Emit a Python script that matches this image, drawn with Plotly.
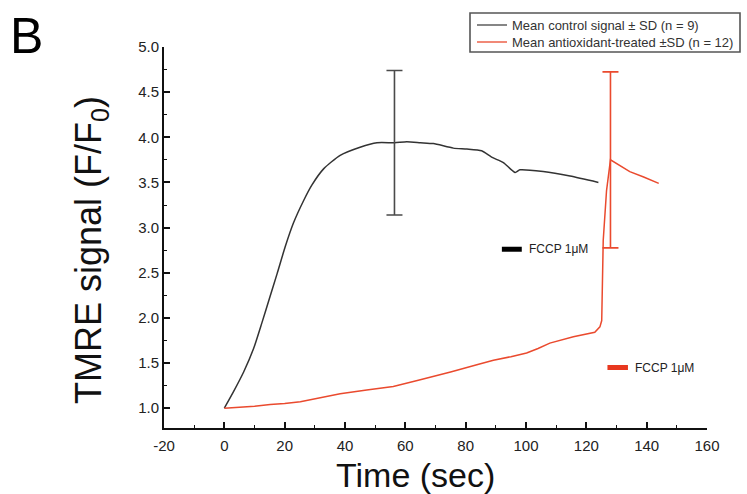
import plotly.graph_objects as go

# Mean TMRE signal, control cells (F/F0) vs time (s)
control_time = [0, 3, 6.4, 9.7, 12.5, 15, 17.5, 20.2, 22.9, 26.3, 29.0, 32.9, 38.4,
                45, 50.6, 56.4, 60.5, 65, 69.3, 75.9, 80.4, 85.3, 88.6, 92.5, 96.4,
                98, 105.7, 114.6, 124]
control_mean = [1.00, 1.18, 1.40, 1.66, 1.95, 2.22, 2.49, 2.79, 3.05, 3.30, 3.47, 3.65, 3.80,
                3.89, 3.94, 3.94, 3.95, 3.94, 3.93, 3.88, 3.87, 3.85, 3.78, 3.72, 3.61,
                3.64, 3.62, 3.57, 3.50]

# Mean TMRE signal, antioxidant-treated cells
treated_time = [0, 5, 10, 15.2, 20, 25.2, 30, 38.4, 47.2, 56, 64.3, 69.3, 75, 83.7,
                89.2, 95, 100.2, 104, 107.9, 115.7, 122.8, 124.5, 125.1, 125.6, 126.7,
                128.0, 131, 134.4, 139, 144]
treated_mean = [1.00, 1.01, 1.02, 1.04, 1.05, 1.07, 1.10, 1.16, 1.20, 1.24, 1.31, 1.35, 1.40, 1.48,
                1.53, 1.57, 1.61, 1.66, 1.72, 1.79, 1.84, 1.90, 1.97, 2.86, 3.41,
                3.75, 3.69, 3.62, 3.56, 3.49]

# Standard deviation bars: time point, mean, SD
control_sd_time = [56.4]
control_sd_mean = [3.94]
control_sd = [0.80]
treated_sd_time = [128.0]
treated_sd_mean = [3.75]
treated_sd = [0.975]

# FCCP application markers: start, end, level
fccp_control = [92, 98.6, 2.76]
fccp_treated = [127, 133.8, 1.45]
fccp_label = "FCCP 1μM"

# Axis ticks
x_ticks = [-20, 0, 20, 40, 60, 80, 100, 120, 140, 160]
x_ticktext = ["-20", "0", "20", "40", "60", "80", "100", "120", "140", "160"]
y_ticks = [1.0, 1.5, 2.0, 2.5, 3.0, 3.5, 4.0, 4.5, 5.0]

control_name = "Mean control signal ± SD (n = 9)"
treated_name = "Mean antioxidant-treated ±SD (n = 12)"

BLACK = "#333333"
RED = "#ea4a2e"
FONT = "Liberation Sans, Arial, sans-serif"

# plot-area geometry in pixels
L, R, T, B = 164, 707, 47, 428
W, H = R - L, B - T


def px(xp):
    return (xp - L) / W


def py(yp):
    return (B - yp) / H


fig = go.Figure()

fig.add_trace(go.Scatter(
    x=control_time, y=control_mean, mode="lines",
    line=dict(color=BLACK, width=1.5, shape="spline", smoothing=0.6),
    name=control_name, showlegend=False))
fig.add_trace(go.Scatter(
    x=treated_time, y=treated_mean, mode="lines",
    line=dict(color=RED, width=1.5),
    name=treated_name, showlegend=False))

fig.add_trace(go.Scatter(
    x=control_sd_time, y=control_sd_mean, mode="markers",
    marker=dict(size=2, opacity=0, color=BLACK), showlegend=False, hoverinfo="skip",
    error_y=dict(type="data", array=control_sd, visible=True,
                 color="#4a4a4a", thickness=1.6, width=8)))
fig.add_trace(go.Scatter(
    x=treated_sd_time, y=treated_sd_mean, mode="markers",
    marker=dict(size=2, opacity=0, color=RED), showlegend=False, hoverinfo="skip",
    error_y=dict(type="data", array=treated_sd, visible=True,
                 color=RED, thickness=1.6, width=8)))

# FCCP bars and labels
for (x0, x1, yv), col in ((fccp_control, "#000000"), (fccp_treated, "#e8381f")):
    fig.add_shape(type="line", xref="x", yref="y", x0=x0, x1=x1, y0=yv, y1=yv,
                  line=dict(color=col, width=5))
    fig.add_annotation(x=x1, y=yv, xref="x", yref="y", text=fccp_label,
                       showarrow=False, xanchor="left", yanchor="middle", xshift=5,
                       font=dict(family=FONT, size=12, color="#222222"))

# Legend box drawn in paper coordinates
fig.add_shape(type="rect", xref="paper", yref="paper",
              x0=px(470), x1=px(740), y0=py(52), y1=py(13),
              line=dict(color="#555555", width=1.6), fillcolor="white")
for yp, col, name in ((25, "#444444", control_name), (42, RED, treated_name)):
    fig.add_shape(type="line", xref="paper", yref="paper",
                  x0=px(477), x1=px(507), y0=py(yp), y1=py(yp),
                  line=dict(color=col, width=1.3))
    fig.add_annotation(xref="paper", yref="paper", x=px(510), y=py(yp), text=name,
                       showarrow=False, xanchor="left", yanchor="middle",
                       font=dict(family=FONT, size=13, color="#333333"))

# Panel letter
fig.add_annotation(xref="paper", yref="paper", x=px(26), y=py(36), text="B",
                   showarrow=False, xanchor="center", yanchor="middle",
                   font=dict(family=FONT, size=50, color="#000000"))

# Axis titles
fig.add_annotation(xref="paper", yref="paper", x=px(415), y=py(475),
                   text="Time (sec)", showarrow=False, xanchor="center", yanchor="middle",
                   font=dict(family=FONT, size=34, color="#111111"))
fig.add_annotation(xref="paper", yref="paper", x=px(91), y=py(250),
                   text="TMRE signal (F/F<sub>0</sub>)", showarrow=False, textangle=-90,
                   xanchor="center", yanchor="middle",
                   font=dict(family=FONT, size=36, color="#111111"))

fig.update_xaxes(range=[-20, 160], tickvals=x_ticks, ticktext=x_ticktext,
                 ticks="inside", ticklen=6, ticklabelstandoff=3,
                 tickwidth=1.5, tickcolor="#111111", showline=True, linecolor="#111111",
                 linewidth=2, showgrid=False, zeroline=False,
                 tickfont=dict(family=FONT, size=15, color="#222222"),
                 minor=dict(dtick=10, tick0=0, ticks="inside", ticklen=3, tickwidth=1.2,
                            tickcolor="#111111"))
fig.update_yaxes(range=[0.78, 5.0], tickvals=y_ticks, tickformat=".1f", ticks="inside",
                 ticklen=6, tickwidth=1.5, tickcolor="#111111", showline=True,
                 linecolor="#111111", linewidth=2, showgrid=False, zeroline=False,
                 tickfont=dict(family=FONT, size=15, color="#222222"),
                 minor=dict(dtick=0.25, tick0=1, ticks="inside", ticklen=3, tickwidth=1.2,
                            tickcolor="#111111"))

fig.update_layout(
    width=747, height=494,
    margin=dict(l=L, r=747 - R, t=T, b=494 - B, autoexpand=False),
    paper_bgcolor="white", plot_bgcolor="white",
    font=dict(family=FONT),
    showlegend=False,
)

fig.write_html("out.html")
